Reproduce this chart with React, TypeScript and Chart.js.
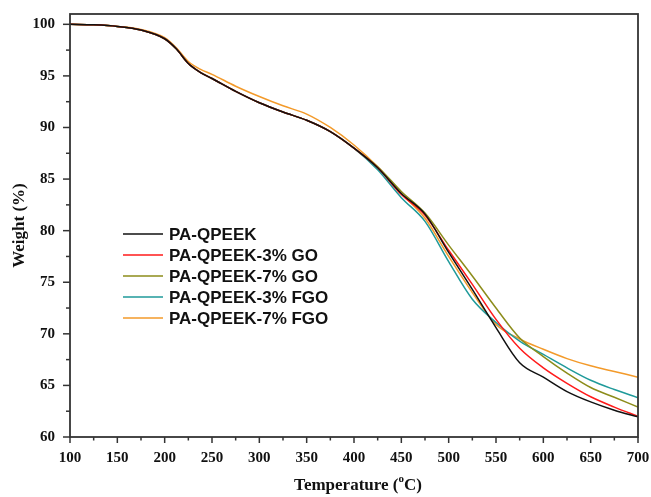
import React, { useEffect, useRef } from 'react';
import { Chart, registerables } from 'chart.js';
Chart.register(...registerables);

const temps = [100, 125, 150, 175, 200, 212.5, 225, 237.5, 250, 275, 300, 325, 350, 375, 400, 425, 450, 475, 500, 525, 550, 575, 600, 625, 650, 675, 700];
const paQpeek = [100, 99.95, 99.8, 99.45, 98.6, 97.6, 96.2, 95.35, 94.75, 93.5, 92.4, 91.5, 90.7, 89.6, 88.0, 86.1, 83.6, 81.6, 77.9, 74.3, 70.6, 67.2, 65.8, 64.4, 63.4, 62.6, 61.95];
const go3 = [100, 99.95, 99.8, 99.45, 98.6, 97.6, 96.2, 95.35, 94.75, 93.5, 92.4, 91.5, 90.7, 89.6, 88.0, 86.1, 83.5, 81.5, 78.1, 74.8, 71.4, 68.6, 66.7, 65.2, 63.9, 62.9, 62.0];
const go7 = [100, 99.95, 99.8, 99.45, 98.6, 97.6, 96.2, 95.35, 94.75, 93.5, 92.4, 91.5, 90.7, 89.6, 88.0, 86.2, 83.8, 81.7, 78.6, 75.6, 72.5, 69.6, 67.8, 66.2, 64.8, 63.85, 62.9];
const fgo3 = [100, 99.95, 99.8, 99.45, 98.6, 97.6, 96.2, 95.35, 94.75, 93.5, 92.4, 91.5, 90.7, 89.6, 88.0, 85.9, 83.2, 80.9, 77.0, 73.35, 71.1, 69.3, 68.0, 66.7, 65.5, 64.6, 63.8];
const fgo7 = [100, 99.95, 99.8, 99.5, 98.7, 97.7, 96.4, 95.65, 95.15, 94.0, 93.0, 92.1, 91.3, 90.0, 88.3, 86.2, 83.6, 81.2, 77.5, 74.0, 70.9, 69.5, 68.5, 67.6, 66.9, 66.35, 65.8];

const seriesNames = ['PA-QPEEK', 'PA-QPEEK-3% GO', 'PA-QPEEK-7% GO', 'PA-QPEEK-3% FGO', 'PA-QPEEK-7% FGO'];
const seriesColors = ['#111111', '#ff1a1a', '#8c8c1a', '#1f9a9a', '#f39a2a'];
const seriesValues = [paQpeek, go3, go7, fgo3, fgo7];

const xTickStep = 50;
const yTickLabels = [60, 65, 70, 75, 80, 85, 90, 95, 100];
const xTitle = 'Temperature (';
const xTitleSup = 'o';
const xTitleEnd = 'C)';
const yTitle = 'Weight (%)';

const serif = '"Liberation Serif", "Times New Roman", serif';
const sans = '"Liberation Sans", Arial, sans-serif';

const decorPlugin = {
  id: 'decor',
  beforeDraw(chart: any) {
    const ctx = chart.ctx;
    ctx.save();
    ctx.fillStyle = '#ffffff';
    ctx.fillRect(0, 0, chart.width, chart.height);
    ctx.restore();
  },
  afterDraw(chart: any) {
    const { ctx, chartArea: a, scales } = chart;
    ctx.save();
    // frame
    ctx.strokeStyle = '#333333';
    ctx.lineWidth = 1.8;
    ctx.strokeRect(a.left, a.top, a.right - a.left, a.bottom - a.top);
    // x ticks
    ctx.lineWidth = 1.5;
    for (let v = 100; v <= 700; v += 25) {
      const px = scales.x.getPixelForValue(v);
      const len = v % 50 === 0 ? 6 : 3.5;
      ctx.beginPath();
      ctx.moveTo(px, a.bottom);
      ctx.lineTo(px, a.bottom + len);
      ctx.stroke();
    }
    for (let v = 60; v <= 100; v += 2.5) {
      const py = scales.y.getPixelForValue(v);
      const len = v % 5 === 0 ? 7 : 4;
      ctx.beginPath();
      ctx.moveTo(a.left, py);
      ctx.lineTo(a.left - len, py);
      ctx.stroke();
    }
    // legend
    ctx.font = `bold 17px ${sans}`;
    ctx.textBaseline = 'middle';
    ctx.textAlign = 'left';
    chart.data.datasets.forEach((ds: any, i: number) => {
      const y = 234 + i * 21;
      ctx.strokeStyle = ds.borderColor;
      ctx.lineWidth = 1.5;
      ctx.beginPath();
      ctx.moveTo(123, y);
      ctx.lineTo(163, y);
      ctx.stroke();
      ctx.fillStyle = '#111111';
      ctx.fillText(ds.label, 169, y + 1);
    });
    // y title
    ctx.fillStyle = '#111111';
    ctx.font = `bold 17px ${serif}`;
    ctx.textAlign = 'center';
    ctx.save();
    ctx.translate(20, (a.top + a.bottom) / 2);
    ctx.rotate(-Math.PI / 2);
    ctx.fillText(yTitle, 0, 0);
    ctx.restore();
    // x title with superscript
    const f1 = `bold 17px ${serif}`;
    const f2 = `bold 11px ${serif}`;
    ctx.font = f1;
    const w1 = ctx.measureText(xTitle).width;
    const w3 = ctx.measureText(xTitleEnd).width;
    ctx.font = f2;
    const w2 = ctx.measureText(xTitleSup).width;
    const total = w1 + w2 + w3;
    const cx = (a.left + a.right) / 2 + 4;
    const x0 = cx - total / 2;
    const yb = 486;
    ctx.textAlign = 'left';
    ctx.font = f1;
    ctx.fillText(xTitle, x0, yb);
    ctx.font = f2;
    ctx.fillText(xTitleSup, x0 + w1, yb - 7);
    ctx.font = f1;
    ctx.fillText(xTitleEnd, x0 + w1 + w2, yb);
    ctx.restore();
  },
};

export default function App() {
  const ref = useRef<HTMLCanvasElement>(null);
  useEffect(() => {
    const canvas = ref.current;
    if (!canvas) return;
    const chart = new Chart(canvas, {
      type: 'line',
      data: {
        datasets: seriesValues.map((vals, i) => ({
          label: seriesNames[i],
          data: temps.map((t, j) => ({ x: t, y: vals[j] })),
          borderColor: seriesColors[i],
          backgroundColor: seriesColors[i],
          borderWidth: 1.5,
          pointRadius: 0,
          cubicInterpolationMode: 'monotone' as const,
          fill: false,
        })),
      },
      options: {
        responsive: false,
        animation: false,
        devicePixelRatio: 1,
        layout: { padding: { left: 0, right: 13, top: 14, bottom: 0 } },
        plugins: { legend: { display: false }, tooltip: { enabled: false } },
        scales: {
          x: {
            type: 'linear',
            min: 100,
            max: 700,
            grid: { display: false, drawTicks: false },
            border: { display: false },
            afterFit: (s: any) => { s.height = 60; s.paddingLeft = 0; s.paddingRight = 0; },
            ticks: {
              stepSize: xTickStep,
              padding: 12,
              color: '#111111',
              font: { family: serif, size: 15, weight: 'bold' },
              maxRotation: 0,
            },
          },
          y: {
            type: 'linear',
            min: 60,
            max: 101,
            grid: { display: false, drawTicks: false },
            border: { display: false },
            afterFit: (s: any) => { s.width = 70; s.paddingTop = 0; s.paddingBottom = 0; },
            afterBuildTicks: (s: any) => { s.ticks = yTickLabels.map((v) => ({ value: v })); },
            ticks: {
              padding: 15,
              color: '#111111',
              font: { family: serif, size: 15, weight: 'bold' },
            },
          },
        },
      },
      plugins: [decorPlugin],
    });
    return () => chart.destroy();
  }, []);
  return (
    <div style={{ position: 'absolute', left: 0, top: 0, width: 651, height: 497 }}>
      <canvas ref={ref} width={651} height={497} style={{ width: 651, height: 497 }} />
    </div>
  );
}
